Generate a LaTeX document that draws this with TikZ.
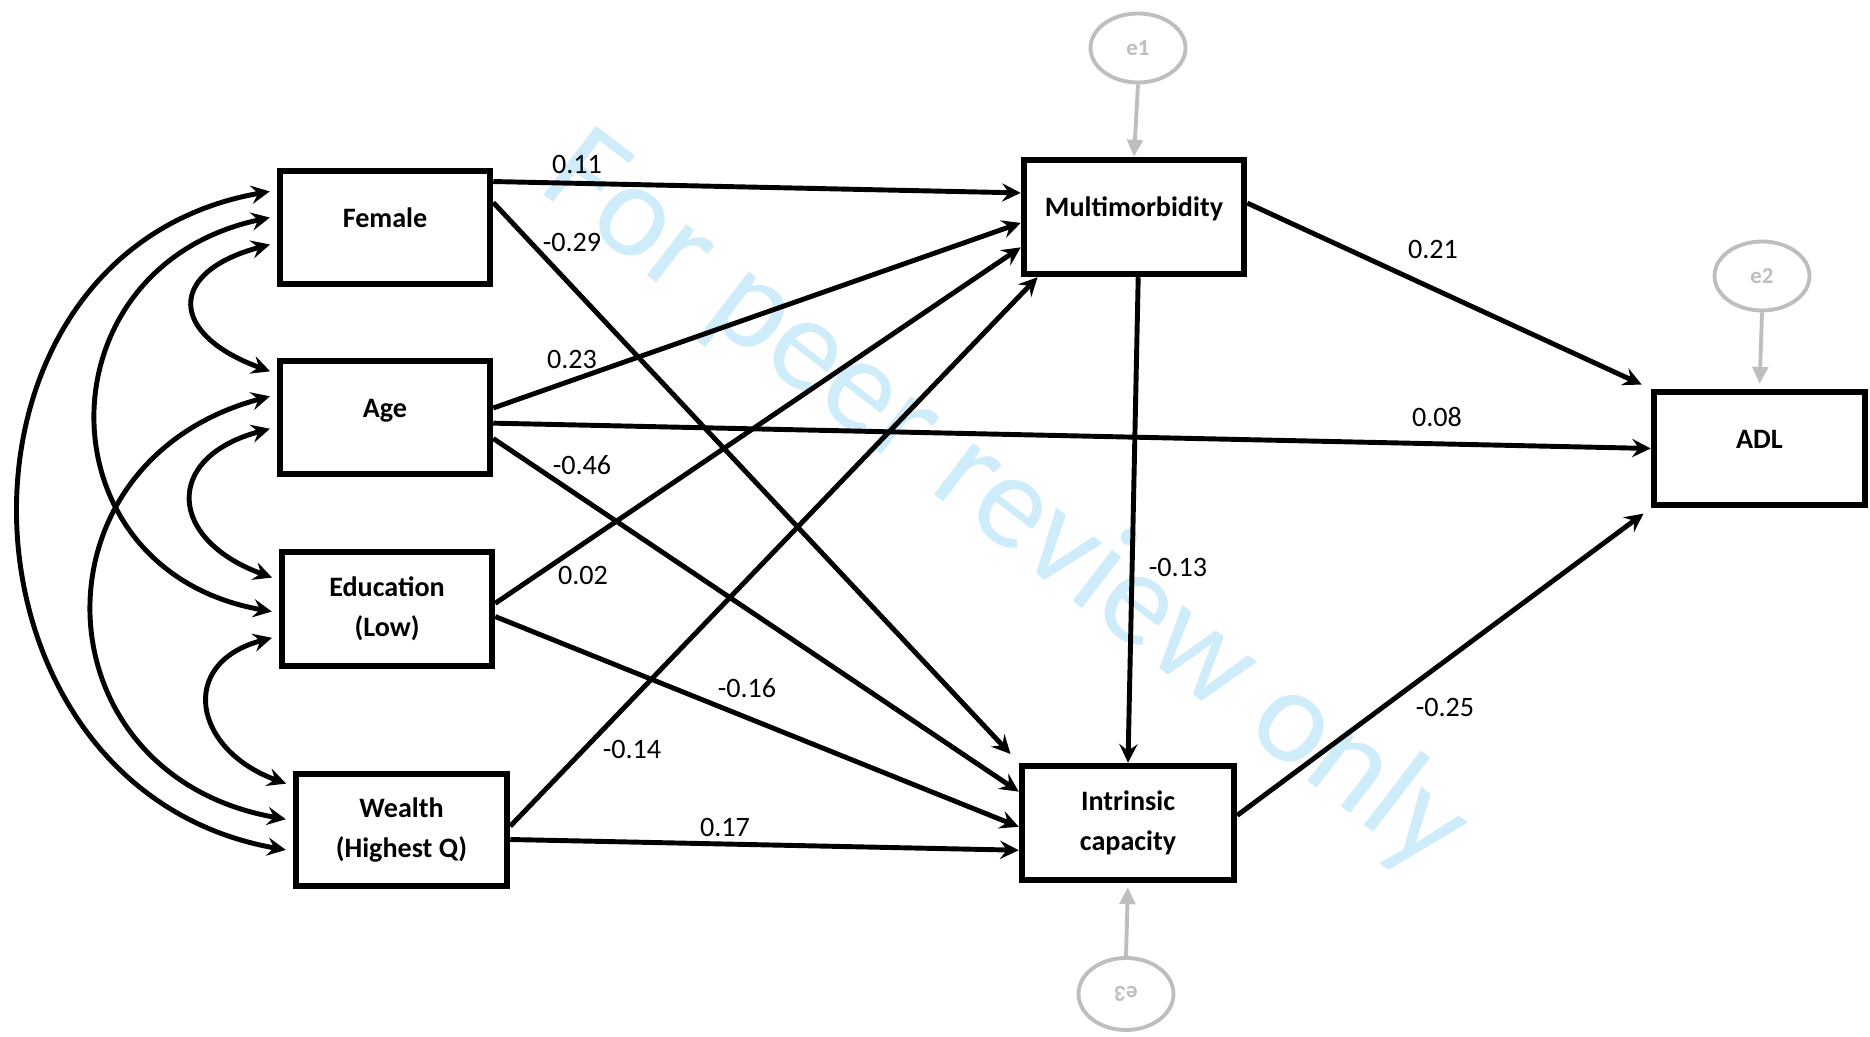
\documentclass[tikz,border=0pt]{standalone}
\usepackage{fontspec}
\setmainfont{Carlito}
\usepackage{graphicx}
\usetikzlibrary{arrows.meta, shapes.geometric, calc}

\definecolor{errgray}{RGB}{190,190,190}
\definecolor{wmblue}{RGB}{207,236,250}

\tikzset{
	varbox/.style={draw, line width=1.85pt, minimum width=2.1cm, minimum height=1.13cm,
		font=\fontsize{8}{11.3}\selectfont\bfseries, align=center, inner sep=0pt},
	onebox/.style={varbox, text height=1.6ex, text depth=1.6ex},
	errnode/.style={draw=errgray, ellipse, line width=1.1pt, minimum width=0.95cm,
		minimum height=0.69cm, text=errgray, font=\fontsize{6.5}{8}\selectfont\bfseries, inner sep=0pt},
	errpath/.style={draw=errgray, line width=1.1pt, -{Triangle[length=4.8pt,width=4.4pt]}},
	pathar/.style={line width=1.4pt, -{Stealth[length=5.3pt,width=5.2pt,inset=1.9pt]}},
	covar/.style={line width=1.4pt, {Stealth[length=5.3pt,width=5.2pt,inset=1.9pt]}-{Stealth[length=5.3pt,width=5.2pt,inset=1.9pt]},
		shorten <=2pt, shorten >=2pt},
	coef/.style={font=\fontsize{8}{10}\selectfont, inner sep=1pt}
}

\begin{document}
\begin{tikzpicture}
	\useasboundingbox (0,0) rectangle (18.70,10.37);
	% watermark
	\node[rotate=-37.5, text=wmblue, font=\fontsize{38.5}{40}\selectfont, inner sep=0pt] (wmark) at (10.05,5.33) {For peer review only};

	% observed variables
	\node[onebox] (fem) at (3.85,8.095) {Female};
	\node[onebox] (age) at (3.85,6.195) {Age};
	\node[varbox, minimum height=1.14cm] (edu) at (3.87,4.28) {Education\\(Low)};
	\node[varbox, minimum width=2.11cm, minimum height=1.12cm] (wea) at (4.015,2.07) {Wealth\\(Highest Q)};
	\node[onebox, minimum width=2.2cm, minimum height=1.14cm] (mm) at (11.34,8.20) {Multimorbidity};
	\node[varbox, minimum width=2.12cm, minimum height=1.14cm] (ic) at (11.28,2.14) {Intrinsic\\capacity};
	\node[onebox, minimum width=2.11cm] (adl) at (17.595,5.885) {ADL};

	% error terms
	\node[errnode] (e1) at (11.38,9.89) {e1};
	\node[errnode] (e2) at (17.62,7.61) {e2};
	\node[errnode, minimum height=0.72cm] (e3) at (11.26,0.43) {\rotatebox{180}{e3}};
	\draw[errpath] (e1.south) -- (mm.north);
	\draw[errpath, shorten >=0.05cm] (e2.south) -- (adl.north);
	\draw[errpath, shorten >=0.04cm] (e3.north) -- (ic.south);

	% paths
	\draw[pathar] (fem.23) -- (mm.168);
	\draw[pathar, shorten >=0.12cm] (fem.13) -- (ic.north west);
	\draw[pathar] (age.5) -- (mm.183);
	\draw[pathar] (age.-3) -- (adl.west);
	\draw[pathar] (age.-11) -- (ic.164);
	\draw[pathar] (edu.3) -- (mm.195);
	\draw[pathar] (edu.-4) -- (ic.182);
	\draw[pathar] (wea.2) -- (mm.212);
	\draw[pathar] (wea.-5) -- (ic.194);
	\draw[pathar, shorten >=0.1cm] (mm.7) -- (adl.north west);
	\draw[pathar] (mm.-86) -- (ic.north);
	\draw[pathar, shorten >=0.09cm] (ic.4) -- (adl.south west);

	% covariances
	\draw[covar] (fem.161) to[out=190, in=170, looseness=1.38] (wea.191);
	\draw[covar] (fem.174) to[out=192, in=170, looseness=1.57] (edu.182);
	\draw[covar] (fem.188) to[out=195, in=160, looseness=2.24] (age.158);
	\draw[covar] (age.168) to[out=195, in=170, looseness=1.56] (wea.175);
	\draw[covar] (age.185) to[out=195, in=160, looseness=1.97] (edu.165);
	\draw[covar] (edu.194) to[out=195, in=160, looseness=1.79] (wea.158);

	% coefficients
	\node[coef] (cFemMM) at (5.77,8.72) {0.11};
	\node[coef] (cFemIC) at (5.72,7.94) {-0.29};
	\node[coef] (cAgeMM) at (5.72,6.77) {0.23};
	\node[coef] (cAgeIC) at (5.82,5.72) {-0.46};
	\node[coef] (cEduMM) at (5.83,4.61) {0.02};
	\node[coef] (cEduIC) at (7.47,3.49) {-0.16};
	\node[coef] (cWeaMM) at (6.32,2.87) {-0.14};
	\node[coef] (cWeaIC) at (7.25,2.09) {0.17};
	\node[coef] (cMMIC) at (11.78,4.69) {-0.13};
	\node[coef] (cMMADL) at (14.33,7.87) {0.21};
	\node[coef] (cAgeADL) at (14.37,6.20) {0.08};
	\node[coef] (cICADL) at (14.45,3.29) {-0.25};
\end{tikzpicture}
\end{document}
